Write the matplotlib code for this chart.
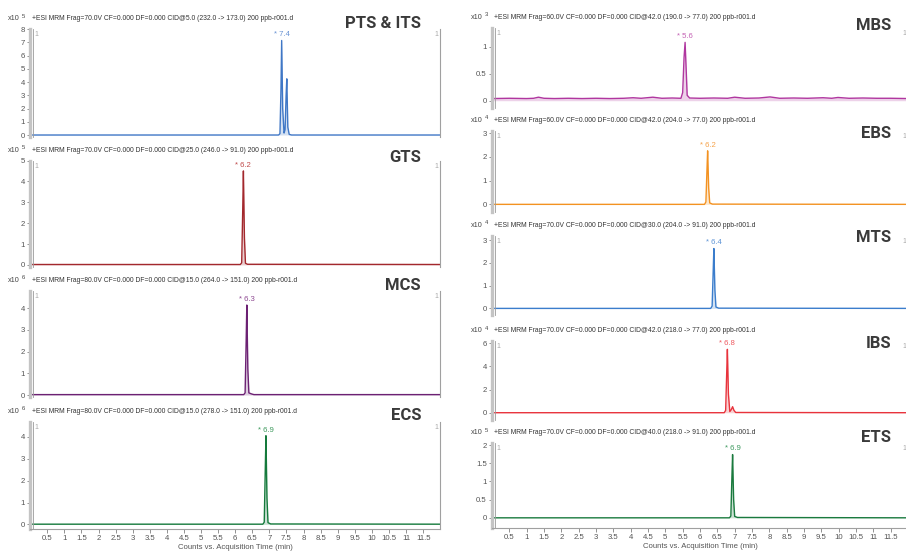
import numpy as np
import matplotlib
matplotlib.use("Agg")
import matplotlib.pyplot as plt
from matplotlib.transforms import ScaledTranslation

W, H, DPI = 906, 552, 100
plt.rcParams['font.family'] = ['Liberation Sans', 'DejaVu Sans']

# ---- data (intensity in units of 10^exp counts) ----
x_ticks = [0.5, 1, 1.5, 2, 2.5, 3, 3.5, 4, 4.5, 5, 5.5, 6,
           6.5, 7, 7.5, 8, 8.5, 9, 9.5, 10, 10.5, 11, 11.5]
x_tick_labels = ["0.5", "1", "1.5", "2", "2.5", "3", "3.5", "4", "4.5", "5", "5.5", "6",
                 "6.5", "7", "7.5", "8", "8.5", "9", "9.5", "10", "10.5", "11", "11.5"]
x_label = "Counts vs. Acquisition Time (min)"

# left column
pts_t = [0, 7.27, 7.31, 7.34, 7.36, 7.39, 7.43, 7.46, 7.49, 7.51, 7.54, 7.58, 7.65, 12]
pts_y = [0, 0, 0.1, 3.5, 7.15, 2.0, 0.15, 0.4, 3.0, 4.25, 0.6, 0.05, 0, 0]
gts_t = [0, 6.15, 6.19, 6.22, 6.24, 6.27, 6.30, 6.36, 12]
gts_y = [0.02, 0.02, 0.1, 2.6, 4.5, 1.3, 0.08, 0.03, 0.02]
mcs_t = [0, 6.25, 6.29, 6.32, 6.34, 6.37, 6.40, 6.48, 6.55, 12]
mcs_y = [0.02, 0.02, 0.1, 2.4, 4.15, 1.2, 0.1, 0.05, 0.02, 0.02]
ecs_t = [0, 6.81, 6.85, 6.88, 6.90, 6.93, 6.96, 7.04, 12]
ecs_y = [0.01, 0.01, 0.1, 2.5, 4.05, 1.2, 0.08, 0.02, 0.01]

# right column
mbs_t = [0, 0.5, 1.0, 1.2, 1.34, 1.5, 1.8, 2.2, 2.6, 3.0, 3.4, 3.8, 4.07, 4.3, 4.64, 4.9,
         5.2, 5.45, 5.50, 5.54, 5.57, 5.60, 5.63, 5.70, 6.0, 6.4, 6.8, 7.0, 7.3, 7.7, 8.02,
         8.3, 8.7, 9.1, 9.55, 9.8, 9.98, 10.3, 10.7, 11.1, 11.5, 12]
mbs_y = [0.04, 0.045, 0.04, 0.045, 0.065, 0.045, 0.04, 0.045, 0.04, 0.045, 0.04, 0.045, 0.055,
         0.045, 0.065, 0.045, 0.05, 0.045, 0.15, 0.8, 1.08, 0.6, 0.1, 0.05, 0.045, 0.05, 0.045,
         0.065, 0.045, 0.05, 0.07, 0.045, 0.05, 0.045, 0.055, 0.045, 0.06, 0.045, 0.05, 0.045,
         0.045, 0.04]
ebs_t = [0, 6.13, 6.17, 6.20, 6.22, 6.25, 6.28, 6.36, 12]
ebs_y = [0.0, 0.0, 0.1, 1.4, 2.26, 0.7, 0.06, 0.01, 0.0]
mts_t = [0, 6.31, 6.35, 6.38, 6.40, 6.43, 6.46, 6.54, 12]
mts_y = [0.0, 0.0, 0.1, 1.6, 2.63, 0.8, 0.06, 0.01, 0.0]
ibs_t = [0, 6.70, 6.74, 6.77, 6.79, 6.82, 6.86, 6.90, 6.94, 6.98, 7.03, 12]
ibs_y = [0.0, 0.0, 0.2, 3.4, 5.48, 1.6, 0.1, 0.25, 0.52, 0.2, 0.02, 0.0]
ets_t = [0, 6.85, 6.89, 6.92, 6.94, 6.97, 7.00, 7.08, 12]
ets_y = [0.0, 0.0, 0.05, 1.1, 1.74, 0.5, 0.04, 0.01, 0.0]

names = ["PTS & ITS", "GTS", "MCS", "ECS", "MBS", "EBS", "MTS", "IBS", "ETS"]
times = [pts_t, gts_t, mcs_t, ecs_t, mbs_t, ebs_t, mts_t, ibs_t, ets_t]
values = [pts_y, gts_y, mcs_y, ecs_y, mbs_y, ebs_y, mts_y, ibs_y, ets_y]
exponents = [5, 5, 6, 6, 3, 4, 4, 4, 5]
peak_rt = [7.36, 6.24, 6.34, 6.90, 5.57, 6.22, 6.40, 6.79, 6.94]
peak_h = [7.15, 4.5, 4.15, 4.05, 1.08, 2.26, 2.63, 5.48, 1.74]
peak_labels = ["7.4", "6.2", "6.3", "6.9", "5.6", "6.2", "6.4", "6.8", "6.9"]
headers = [
    "+ESI MRM Frag=70.0V CF=0.000 DF=0.000 CID@5.0 (232.0 -> 173.0) 200 ppb-r001.d",
    "+ESI MRM Frag=70.0V CF=0.000 DF=0.000 CID@25.0 (246.0 -> 91.0) 200 ppb-r001.d",
    "+ESI MRM Frag=80.0V CF=0.000 DF=0.000 CID@15.0 (264.0 -> 151.0) 200 ppb-r001.d",
    "+ESI MRM Frag=80.0V CF=0.000 DF=0.000 CID@15.0 (278.0 -> 151.0) 200 ppb-r001.d",
    "+ESI MRM Frag=60.0V CF=0.000 DF=0.000 CID@42.0 (190.0 -> 77.0) 200 ppb-r001.d",
    "+ESI MRM Frag=60.0V CF=0.000 DF=0.000 CID@42.0 (204.0 -> 77.0) 200 ppb-r001.d",
    "+ESI MRM Frag=70.0V CF=0.000 DF=0.000 CID@30.0 (204.0 -> 91.0) 200 ppb-r001.d",
    "+ESI MRM Frag=70.0V CF=0.000 DF=0.000 CID@42.0 (218.0 -> 77.0) 200 ppb-r001.d",
    "+ESI MRM Frag=70.0V CF=0.000 DF=0.000 CID@40.0 (218.0 -> 91.0) 200 ppb-r001.d",
]
y_ticks = [
    [0, 1, 2, 3, 4, 5, 6, 7, 8],
    [0, 1, 2, 3, 4, 5],
    [0, 1, 2, 3, 4],
    [0, 1, 2, 3, 4],
    [0, 0.5, 1],
    [0, 1, 2, 3],
    [0, 1, 2, 3],
    [0, 2, 4, 6],
    [0, 0.5, 1, 1.5, 2],
]
y_tick_labels = [[f"{v:g}" for v in tk] for tk in y_ticks]

colors = ["#3f77c6", "#a3282d", "#6c2173", "#157a3c", "#b0369f",
          "#f39221", "#3b7dcc", "#e8333c", "#1a7a3e"]
label_colors = ["#6a94d4", "#c04a4a", "#8e4a92", "#3f9a5e", "#c462b4",
                "#f5a24a", "#5f95d6", "#ee5a60", "#3f9a60"]

# ---- layout: column, top px, bottom px, ylim, title centre y px ----
layout = [
    (0, 29.0, 137.0, -0.15, 8.02, 24),
    (0, 160.5, 267.0, -0.10, 4.98, 157),
    (0, 290.7, 397.0, -0.09, 4.81, 286),
    (0, 421.7, 529.0, -0.21, 4.69, 416),
    (1, 28.0, 108.0, -0.135, 1.346, 25),
    (1, 130.7, 211.7, -0.31, 3.11, 133),
    (1, 236.0, 315.0, -0.29, 3.18, 238),
    (1, 341.0, 420.0, -0.63, 6.20, 344),
    (1, 443.3, 528.0, -0.28, 2.05, 437),
]
col_x = [(30.2, 440.2), (492.0, 908.0)]   # axes left/right px, x = 0..12
col_title_x = [421, 891]
col_x10 = [8, 471]
col_header = [32, 494]
bottom_panels = [3, 8]

fig = plt.figure(figsize=(W / DPI, H / DPI), dpi=DPI)
fig.patch.set_facecolor("white")


def fx(x):
    return x / W


def fy(y):
    return 1 - y / H


for i in range(9):
    col, top, bot, ylo, yhi, ty = layout[i]
    x0, x1 = col_x[col]
    ax = fig.add_axes([fx(x0), fy(bot), (x1 - x0) / W, (bot - top) / H])
    c = colors[i]
    t = np.array(times[i]); y = np.array(values[i])
    ax.fill_between(t, y, 0, color=c, alpha=0.22, lw=0)
    ax.plot(t, y, color=c, lw=1.0)
    ax.set_xlim(0, 12)
    ax.set_ylim(ylo, yhi)

    for s in ["top", "bottom"]:
        ax.spines[s].set_visible(False)
    ax.spines["left"].set_color("#c4c4c4")
    ax.spines["left"].set_linewidth(2.4)
    ax.spines["right"].set_color("#a0a0a0")
    ax.spines["right"].set_linewidth(0.8)
    off = ScaledTranslation(2.6 / DPI, 0, fig.dpi_scale_trans)
    ax.plot([0, 0], [0, 1], transform=ax.transAxes + off, color="#9a9a9a",
            lw=0.6, clip_on=False)

    ax.set_yticks(y_ticks[i])
    ax.set_yticklabels(y_tick_labels[i])
    ax.tick_params(axis="y", length=2.5, width=0.6, color="#808080",
                   labelsize=5.6, labelcolor="#555555", pad=1.2)
    if i in bottom_panels:
        ax.spines["bottom"].set_visible(True)
        ax.spines["bottom"].set_color("#a0a0a0")
        ax.spines["bottom"].set_linewidth(0.8)
        ax.set_xticks(x_ticks)
        ax.set_xticklabels(x_tick_labels)
        ax.tick_params(axis="x", length=3, width=0.6, color="#808080",
                       labelsize=5.6, labelcolor="#555555", pad=1.5)
        ax.set_xlabel(x_label, fontsize=5.6, color="#555555", labelpad=1.5)
    else:
        ax.set_xticks([])

    # small "1" markers at top corners
    ax.text(0, 1, "1", transform=ax.transAxes + ScaledTranslation(4 / DPI, -2 / DPI, fig.dpi_scale_trans),
            fontsize=5, color="#a8a8a8", ha="left", va="top")
    ax.text(1, 1, "1", transform=ax.transAxes + ScaledTranslation(-1.5 / DPI, -2 / DPI, fig.dpi_scale_trans),
            fontsize=5, color="#a8a8a8", ha="right", va="top")

    # peak label
    ax.annotate("* " + peak_labels[i], xy=(peak_rt[i], peak_h[i]), xytext=(0, 1.5),
                textcoords="offset points", ha="center", va="bottom",
                fontsize=5.6, color=label_colors[i])

    # header line
    hy = top - 10.5
    fig.text(fx(col_x10[col]), fy(hy), "x10", fontsize=5.2, color="#444444",
             ha="left", va="center")
    fig.text(fx(col_x10[col] + 13.5), fy(hy - 2.5), str(exponents[i]), fontsize=4.2,
             color="#444444", ha="left", va="center")
    fig.text(fx(col_header[col]), fy(hy), headers[i], fontsize=4.9, color="#333333",
             ha="left", va="center")

    # compound name
    fig.text(fx(col_title_x[col]), fy(ty), names[i], fontsize=12, color="#3a3a3a",
             ha="right", va="center", family="Roboto", weight="bold")

fig.savefig("out.png", dpi=DPI, facecolor="white")
